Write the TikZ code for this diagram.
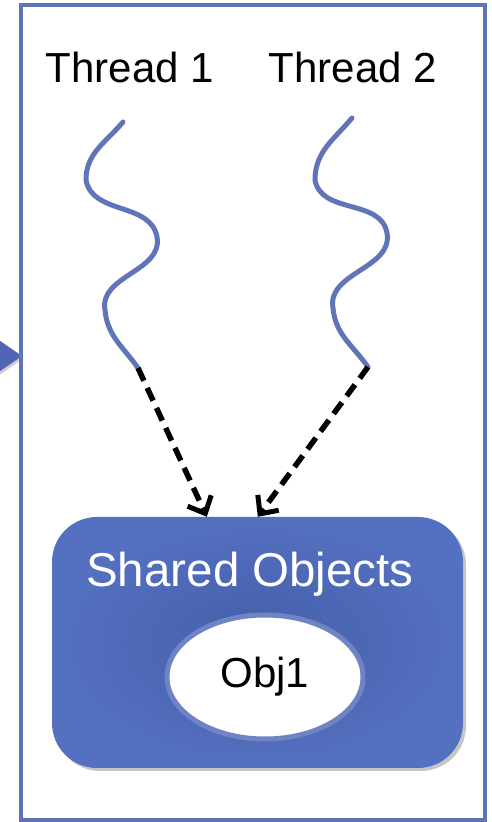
\documentclass[tikz,border=0pt]{standalone}
\usepackage{fontspec}
\setmainfont{Liberation Sans}
\usetikzlibrary{arrows.meta,shapes.geometric,shadows,calc}
\definecolor{frameblue}{RGB}{96,115,182}
\definecolor{wave}{RGB}{96,117,184}
\definecolor{boxin}{RGB}{68,94,168}
\definecolor{boxout}{RGB}{84,112,192}
\definecolor{ellborder}{RGB}{112,132,196}
\definecolor{tri}{RGB}{80,102,180}
\tikzset{
  x=1pt,y=1pt,
  label/.style={font=\fontsize{42}{46}\selectfont, anchor=base, inner sep=0},
  thread/.style={draw=wave, line width=5pt, line cap=round},
  link/.style={draw=black, line width=5.5pt, dash pattern=on 14pt off 8pt,
    -{Straight Barb[length=14pt,width=26pt,line width=5pt]}},
  shared/.style={rectangle, rounded corners=45pt, minimum width=411pt, minimum height=251pt,
    inner color=boxin, outer color=boxout, draw=none,
    drop shadow={shadow xshift=3pt, shadow yshift=-3pt, opacity=0.45}},
  objell/.style={ellipse, draw=ellborder, line width=5pt, fill=white,
    minimum width=196pt, minimum height=124pt, inner sep=0,
    font=\fontsize{42}{46}\selectfont}
}
\begin{document}
\begin{tikzpicture}
\useasboundingbox (0,0) rectangle (491,822);
% left pointer triangle (cut off)
\fill[tri, drop shadow={shadow xshift=2pt, shadow yshift=-2pt, opacity=0.4}] (-10,488) -- (22,466) -- (-10,444) -- cycle;
% frame
\draw[frameblue, line width=4pt] (21,2) rectangle (485,817);
% labels
\node[label] (l1) at (130,739) {Thread 1};
\node[label] (l2) at (353,739) {Thread 2};
% threads
\coordinate (t1s) at (123,700);
\coordinate (t1e) at (138,454);
\coordinate (t2s) at (352,704);
\coordinate (t2e) at (368,455);
\draw[thread] (t1s) to[out=230,in=90] (86,642) to[out=-80,in=100] (157,585)
  to[out=-80,in=100] (105,512) to[out=-85,in=125] (t1e);
\draw[thread] (t2s) to[out=230,in=90] (315,642) to[out=-80,in=100] (387,589)
  to[out=-80,in=100] (333,514) to[out=-85,in=125] (t2e);
% shared objects box
\node[shared] (box) at (257.5,179.5) {};
\node[font=\fontsize{47.5}{50}\selectfont, text=white, anchor=base, inner sep=0] (st) at (250,235) {Shared Objects};
\node[objell] (obj) at (265,145) {Obj1};
% arrows
\coordinate (in1) at ($(box.north west)+(155,0)$);
\coordinate (in2) at ($(box.north west)+(206,0)$);
\draw[link] (t1e) -- (in1);
\draw[link] (t2e) -- (in2);
\end{tikzpicture}
\end{document}
